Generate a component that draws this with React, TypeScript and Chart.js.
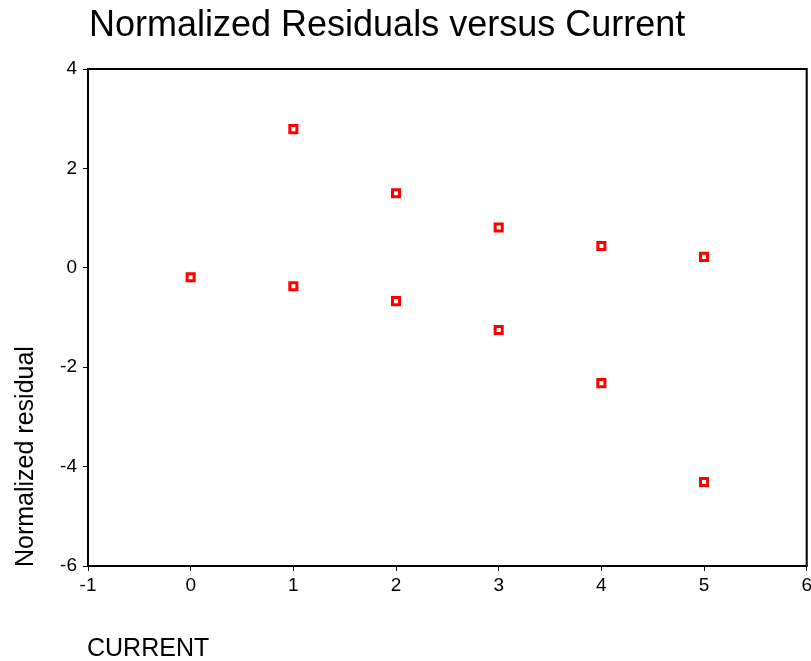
import React, { useEffect, useRef } from "react";
import { Chart, registerables } from "chart.js";

Chart.register(...registerables);

const currentValues = [0, 1, 1, 2, 2, 3, 3, 4, 4, 5, 5];
const residualValues = [-0.19, 2.79, -0.37, 1.5, -0.67, 0.81, -1.25, 0.44, -2.32, 0.22, -4.31];

const titleText = "Normalized Residuals versus Current";
const xTitleText = "CURRENT";
const yTitleText = "Normalized residual";

const FONT = "'Liberation Sans', Arial, Helvetica, sans-serif";

const textPlugin = {
  id: "textPlugin",
  afterDraw(chart: any) {
    const { ctx, chartArea } = chart;
    ctx.save();
    // frame
    ctx.strokeStyle = "#000";
    ctx.lineWidth = 2;
    ctx.strokeRect(chartArea.left, chartArea.top, chartArea.right - chartArea.left, chartArea.bottom - chartArea.top);
    ctx.fillStyle = "#000";
    ctx.textBaseline = "alphabetic";
    ctx.textAlign = "left";
    ctx.font = `36px ${FONT}`;
    ctx.fillText(titleText, chartArea.left + 1, 36);
    ctx.font = `25px ${FONT}`;
    ctx.fillText(xTitleText, chartArea.left - 1, 656);
    ctx.translate(33, 567);
    ctx.rotate(-Math.PI / 2);
    ctx.fillText(yTitleText, 0, 0);
    ctx.restore();
  },
};

export default function App() {
  const canvasRef = useRef<HTMLCanvasElement | null>(null);

  useEffect(() => {
    if (!canvasRef.current) return;
    const chart = new Chart(canvasRef.current, {
      type: "scatter",
      data: {
        datasets: [
          {
            data: currentValues.map((x, i) => ({ x, y: residualValues[i] })),
            pointStyle: "rect",
            radius: 5,
            pointRadius: 5,
            pointBorderWidth: 3,
            borderColor: "#ff0000",
            backgroundColor: "#ffffff",
            pointBackgroundColor: "#ffffff",
            pointBorderColor: "#ff0000",
          } as any,
        ],
      },
      options: {
        animation: false,
        responsive: false,
        layout: { padding: { top: 69, right: 0, left: 0, bottom: 0 } },
        plugins: {
          legend: { display: false },
          tooltip: { enabled: false },
          title: { display: false },
        },
        scales: {
          x: {
            type: "linear",
            min: -1,
            max: 6,
            afterFit: (s: any) => {
              s.height = 95;
            },
            ticks: {
              stepSize: 1,
              color: "#000",
              font: { family: FONT, size: 19 },
              padding: 3,
            },
            grid: {
              drawOnChartArea: false,
              drawTicks: true,
              tickLength: 5,
              color: "#000",
              tickColor: "#000",
            },
            border: { display: false },
          },
          y: {
            type: "linear",
            min: -6,
            max: 4,
            afterFit: (s: any) => {
              s.width = 88;
            },
            ticks: {
              stepSize: 2,
              color: "#000",
              font: { family: FONT, size: 19 },
              padding: 6,
            },
            grid: {
              drawOnChartArea: false,
              drawTicks: true,
              tickLength: 5,
              color: "#000",
              tickColor: "#000",
            },
            border: { display: false },
          },
        },
      },
      plugins: [textPlugin],
    });
    return () => chart.destroy();
  }, []);

  return (
    <div
      style={{
        position: "fixed",
        left: 0,
        top: 0,
        width: 811,
        height: 661,
        overflow: "hidden",
        background: "#fff",
      }}
    >
      <canvas ref={canvasRef} width={815} height={661} style={{ display: "block" }} />
    </div>
  );
}
